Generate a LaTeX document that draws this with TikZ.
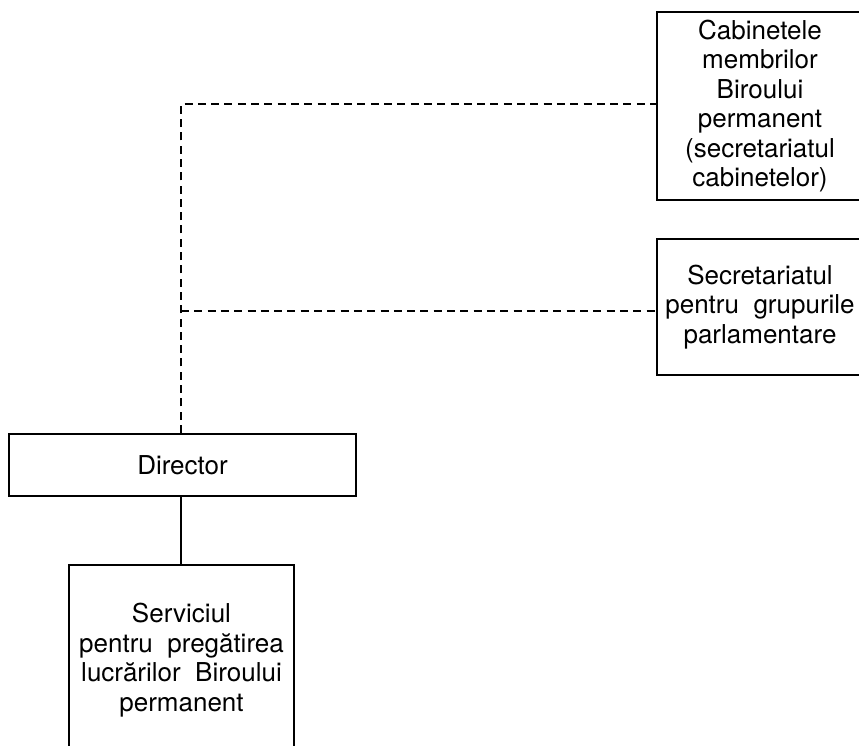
\documentclass[tikz,border=0pt]{standalone}
\usepackage{fontspec}
\setmainfont{TeX Gyre Heros}
\begin{document}
\begin{tikzpicture}[x=1pt,y=-1pt,
  box/.style={draw, line width=2.1pt, align=center, inner sep=0pt,
    font=\fontsize{26}{29.5}\selectfont},
  dashline/.style={line width=2pt, dash pattern=on 8pt off 5.3pt},
  solidline/.style={line width=2pt}]
\useasboundingbox (0,0) rectangle (859,745);
\node[box, minimum width=206pt, minimum height=188pt] (cab) at (760,106)
  {Cabinetele\\membrilor\\Biroului\\permanent\\(secretariatul\\cabinetelor)};
\node[box, minimum width=206pt, minimum height=136pt] (sec) at (760,307)
  {Secretariatul\\pentru\ \ grupurile\\parlamentare};
\node[box, minimum width=347pt, minimum height=62pt] (dir) at (182.5,465)
  {Director};
\node[box, minimum width=225pt, minimum height=190pt] (serv) at (181.5,660)
  {Serviciul\\pentru\ \ pregătirea\\lucrărilor\ \ Biroului\\permanent};
\coordinate (c1) at (181,104);
\coordinate (c2) at (181,311);
\draw[dashline] (dir.north -| c1) -- (c1) -- (c1 -| cab.west);
\draw[dashline] (c2) -- (c2 -| sec.west);
\draw[solidline] (dir.south -| c1) -- (serv.north -| c1);
\end{tikzpicture}
\end{document}
